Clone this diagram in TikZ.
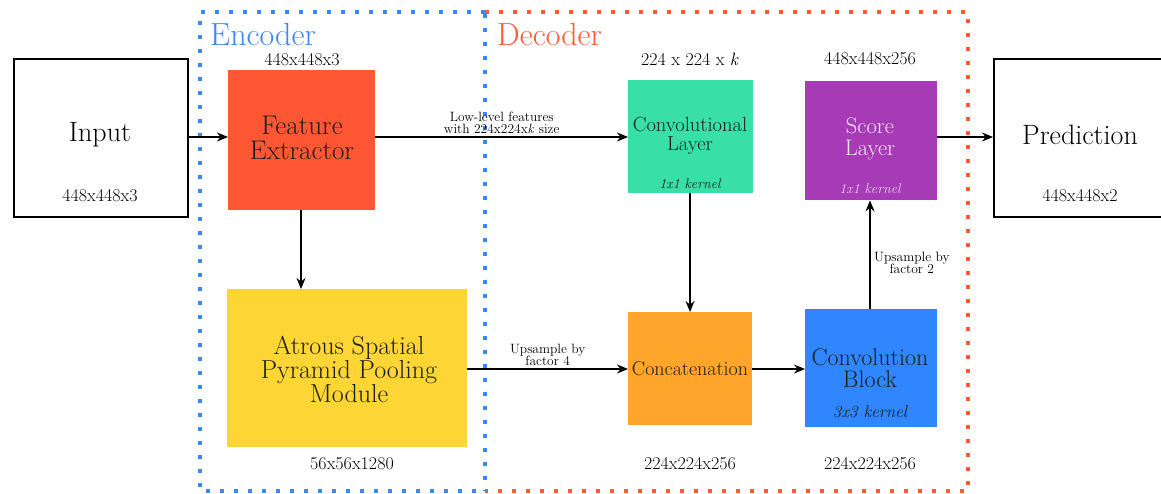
\documentclass[tikz,border=0pt]{standalone}
\usepackage{fontspec}
\usetikzlibrary{arrows.meta}
\definecolor{encblue}{HTML}{3D87F5}
\definecolor{decred}{HTML}{FF5A36}
\definecolor{fecol}{HTML}{FF5733}
\definecolor{asppcol}{HTML}{FDD535}
\definecolor{convcol}{HTML}{38E0A8}
\definecolor{scorecol}{HTML}{A63BB5}
\definecolor{concol}{HTML}{FFA52B}
\definecolor{blockcol}{HTML}{2F86FF}
\definecolor{txtdark}{HTML}{1E1E1E}
% font size and baseline skip, both in pt
\newcommand{\fsz}[2]{\fontsize{#1}{#2}\selectfont}
\begin{document}
\begin{tikzpicture}[x=1pt,y=-1pt,
  iobox/.style={draw=black,line width=2.4pt,minimum width=174pt,minimum height=158pt,anchor=north west,inner sep=0pt},
  block/.style={anchor=north west,inner sep=0pt},
  blocktxt/.style={align=center,text=txtdark,inner sep=0pt},
  dimlab/.style={font=\fsz{18}{20}},
  smalllab/.style={font=\fsz{13.5}{12.5},align=center,inner sep=1pt},
  kern/.style={font=\fsz{14}{15}\itshape},
  flow/.style={line width=2.4pt,-{Stealth[length=11pt,width=9pt]}},
  frame/.style={line width=4pt,dash pattern=on 4pt off 10pt}
]
\useasboundingbox (0,0) rectangle (1161,494);
\fill[white] (0,0) rectangle (1161,494);

% encoder / decoder frames
\draw[frame,draw=decred] (485,12) -- (968,12) -- (968,491) -- (485,491);
\draw[frame,draw=encblue] (485,12) -- (200,12) -- (200,491) -- (485,491);
\draw[frame,draw=encblue] (485,14) -- (485,491);
\node[text=encblue,font=\fsz{32}{34},anchor=base west,inner sep=0pt] (enc) at (210,46) {Encoder};
\node[text=decred,font=\fsz{32}{34},anchor=base west,inner sep=0pt] (dec) at (497,46) {Decoder};

% input and output
\node[iobox] (in) at (13,58) {};
\node[font=\fsz{28}{30}] (intxt) at (100,135) {Input};
\node[dimlab] (indim) at (100,196) {448x448x3};
\node[iobox,minimum width=180pt] (out) at (993,58) {};
\node[font=\fsz{28}{30}] (outtxt) at (1080,135) {Prediction};
\node[dimlab] (outdim) at (1080,196) {448x448x2};

% encoder blocks
\node[block,fill=fecol,minimum width=147pt,minimum height=140pt] (fe) at (228,70) {};
\node[blocktxt,font=\fsz{27}{25}] (fetxt) at (302,138) {Feature\\Extractor};
\node[dimlab,inner sep=1pt] (fedim) at (302,60) {448x448x3};

\node[block,fill=asppcol,minimum width=240pt,minimum height=158pt] (aspp) at (227,289) {};
\node[blocktxt,font=\fsz{26}{24}] (aspptxt) at (349,369) {Atrous Spatial\\Pyramid Pooling\\Module};
\node[dimlab] (asppdim) at (352,464) {56x56x1280};

% decoder blocks
\node[block,fill=convcol,minimum width=125pt,minimum height=113pt] (conv) at (628,80) {};
\node[blocktxt,font=\fsz{20.5}{19.5}] (convtxt) at (690,136) {Convolutional\\Layer};
\node[kern,text=txtdark] (convk) at (690,184) {1x1 kernel};
\node[dimlab] (convdim) at (690,59) {224 x 224 x \textit{k}};

\node[block,fill=scorecol,minimum width=132pt,minimum height=119pt] (score) at (805,81) {};
\node[blocktxt,font=\fsz{22.5}{21.5},text=white!88!scorecol] (scoretxt) at (870,139) {Score\\Layer};
\node[kern,text=white!75!scorecol] (scorek) at (870,189) {1x1 kernel};
\node[dimlab] (scoredim) at (870,59) {448x448x256};

\node[block,fill=concol,minimum width=124pt,minimum height=113pt] (cat) at (628,312) {};
\node[blocktxt,font=\fsz{20}{22}] (cattxt) at (690,369) {Concatenation};
\node[dimlab] (catdim) at (690,464) {224x224x256};

\node[block,fill=blockcol,minimum width=132pt,minimum height=118pt] (cb) at (805,309) {};
\node[blocktxt,font=\fsz{24}{22.5}] (cbtxt) at (870,368) {Convolution\\Block};
\node[kern,font=\fsz{17}{19}\itshape,text=txtdark] (cbk) at (870,412) {3x3 kernel};
\node[dimlab] (cbdim) at (870,464) {224x224x256};

% connectors
\draw[flow] (in.east |- 0,137) -- (fe.west |- 0,137);
\draw[flow] (fe.east |- 0,137) -- (conv.west |- 0,137)
  node[midway,above,smalllab,yshift=1pt] (lowlab) {Low-level features\\with 224x224x\textit{k} size};
\draw[flow] (fe.south -| 301,0) -- (aspp.north -| 301,0);
\draw[flow] (aspp.east |- 0,369) -- (cat.west |- 0,369)
  node[midway,above,smalllab,yshift=1pt] (up4) {Upsample by\\factor 4};
\draw[flow] (conv.south -| 690,0) -- (cat.north -| 690,0);
\draw[flow] (cat.east |- 0,369) -- (cb.west |- 0,369);
\draw[flow] (cb.north -| 870,0) -- (score.south -| 870,0)
  node[midway,right,smalllab,xshift=2pt,yshift=-8pt] (up2) {Upsample by\\factor 2};
\draw[flow] (score.east |- 0,137) -- (out.west |- 0,137);
\end{tikzpicture}
\end{document}
